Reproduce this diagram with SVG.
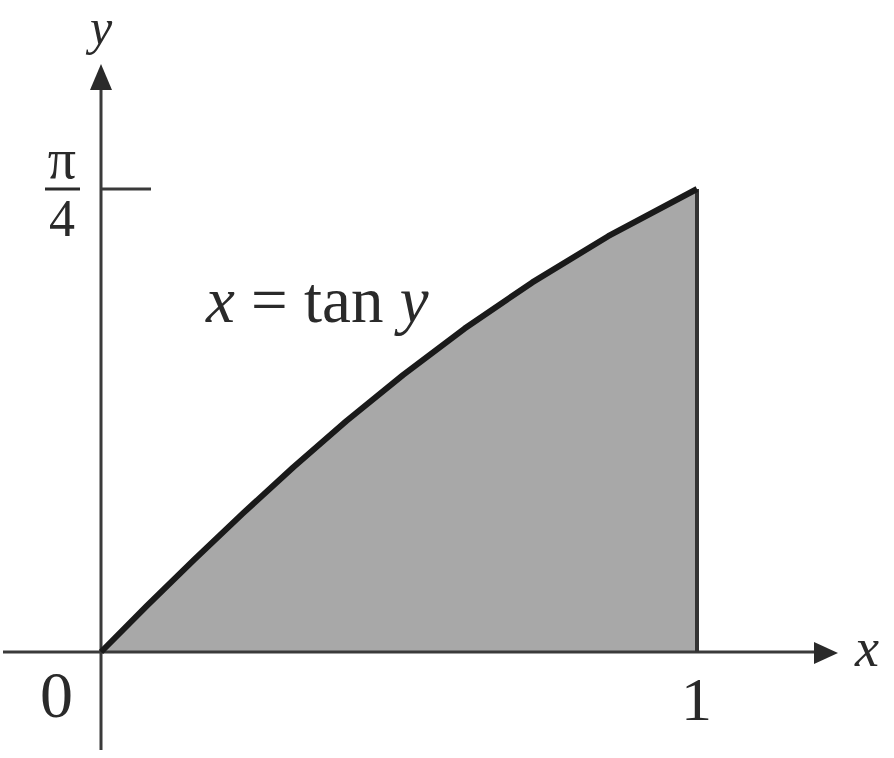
<svg xmlns="http://www.w3.org/2000/svg" width="894" height="758" viewBox="0 0 894 758">
<style>
.ax{stroke:#3a3a3a;stroke-width:3;fill:none}
.t{font-family:"Liberation Serif","Times New Roman",serif;fill:#2a2a2a}
.i{font-style:italic}
.head{fill:#2a2a2a}
</style>
<rect width="894" height="758" fill="#fff"/>
<g id="region">
<path d="M101,652 L146.8,605.8 L194.2,559.6 L242.9,513.4 L293.3,467.2 L346.4,421 L403.2,374.8 L464.6,328.6 L532.3,282.4 L608.2,236.2 L697,189 L697,652 Z" fill="#a8a8a8"/>
</g>
<g id="connectors">
<line class="ax" x1="3" y1="652" x2="820" y2="652"/>
<path class="head" d="M814,642 L838,653 L814,664 Z"/>
<line class="ax" x1="101" y1="750" x2="101" y2="80"/>
<path class="head" d="M90,90 L101,64 L112,90 Z"/>
<line class="ax" x1="101" y1="189" x2="151" y2="189"/>
<line x1="697" y1="189" x2="697" y2="652" stroke="#333" stroke-width="4"/>
<polyline points="101,652 146.8,605.8 194.2,559.6 242.9,513.4 293.3,467.2 346.4,421 403.2,374.8 464.6,328.6 532.3,282.4 608.2,236.2 697,189" fill="none" stroke="#1a1a1a" stroke-width="6" stroke-linejoin="round"/>
</g>
<g id="labels">
<text class="t i" x="90" y="44" font-size="50">y</text>
<text class="t i" x="855" y="666" font-size="54">x</text>
<text class="t" x="40" y="717" font-size="66">0</text>
<text class="t" x="681" y="720" font-size="62">1</text>
<text class="t" x="62" y="178" font-size="56" text-anchor="middle">π</text>
<line x1="45" y1="189" x2="80" y2="189" stroke="#2a2a2a" stroke-width="3"/>
<text class="t" x="62" y="236" font-size="52" text-anchor="middle">4</text>
<text class="t" x="206" y="322" font-size="65"><tspan class="i">x</tspan> = tan <tspan class="i">y</tspan></text>
</g>
</svg>
